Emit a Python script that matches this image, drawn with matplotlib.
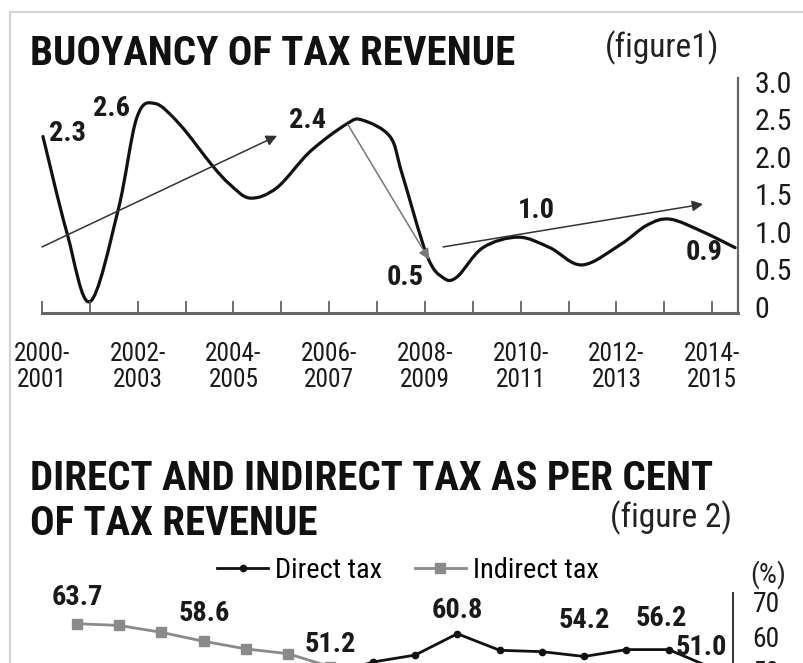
import matplotlib
matplotlib.use('Agg')
import matplotlib.pyplot as plt
import matplotlib.font_manager as fm
from matplotlib.path import Path
from matplotlib.patches import PathPatch, Rectangle

# =============================================================================
# DADOS
# =============================================================================

# figura 1: buoyancy (traço, posição em índice de ano fiscal)
periodos = ['2000-\n2001', '2001-\n2002', '2002-\n2003', '2003-\n2004', '2004-\n2005',
            '2005-\n2006', '2006-\n2007', '2007-\n2008', '2008-\n2009', '2009-\n2010',
            '2010-\n2011', '2011-\n2012', '2012-\n2013', '2013-\n2014', '2014-\n2015']
curva_x = [0.02, 0.52, 1.0, 1.59, 1.98, 2.36, 2.88, 3.55, 3.93, 4.35, 4.91, 5.6, 6.37,
           6.69, 7.27, 7.52, 8.04, 8.38, 8.67, 9.21, 9.95, 10.61, 11.28, 12.08, 12.64,
           13.12, 13.81, 14.48]
curva_y = [2.27, 0.99, 0.07, 1.29, 2.52, 2.71, 2.43, 1.89, 1.63, 1.45, 1.59, 2.07, 2.44,
           2.49, 2.27, 1.78, 0.69, 0.39, 0.40, 0.79, 0.93, 0.79, 0.56, 0.83, 1.09,
           1.17, 1.00, 0.79]
rotulos_buoy = ['2.3', '2.6', '2.4', '0.5', '1.0', '0.9']
rotulos_buoy_pos = [(0.54, 2.31), (1.46, 2.65), (5.54, 2.49), (7.58, 0.39), (10.32, 1.29), (13.83, 0.73)]
setas = [((0.0, 0.80), (4.91, 2.28), '#333333'),
         ((6.39, 2.43), (8.09, 0.63), '#777777'),
         ((8.38, 0.80), (13.81, 1.37), '#333333')]

# figura 2: participação (%) na receita tributária
anos2 = list(range(16))
direto = [36.3, 36.8, 38.8, 41.4, 43.6, 45.0, 48.8, 52.6, 54.6, 60.8, 56.0, 55.6, 54.2, 56.2, 56.2, 51.0]
indireto = [63.7, 63.2, 61.2, 58.6, 56.4, 55.0, 51.2, 47.4, 45.4, 39.2, 44.0, 44.4, 45.8, 43.8, 43.8, 49.0]
rotulos_pct = ['63.7', '58.6', '51.2', '60.8', '54.2', '56.2', '51.0']
rotulos_pct_pos = [(0.02, 71.4), (3.02, 66.7), (6.0, 57.7), (9.0, 67.5), (12.0, 64.6), (13.83, 65.2), (14.78, 56.8)]

# =============================================================================
# FONTE (condensada se existir, senão Roboto)
# =============================================================================

disponiveis = {f.name for f in fm.fontManager.ttflist}
estreita = next((n for n in ['Liberation Sans Narrow', 'DejaVu Sans Condensed', 'Roboto Condensed']
                 if n in disponiveis), None)
if estreita:
    plt.rcParams['font.family'] = [estreita, 'DejaVu Sans']
    k = 1.2
else:
    plt.rcParams['font.family'] = ['Roboto', 'DejaVu Sans']
    k = 1.0

W, H = 804, 663
fig = plt.figure(figsize=(W / 100, H / 100), dpi=100)
fig.patch.set_facecolor('white')

def fx(px):
    return px / W

def fy(py):
    return 1 - py / H

# moldura cinza (borda superior e esquerda)
fig.add_artist(Rectangle((fx(10), -0.2), 1.2, fy(12) + 0.2, transform=fig.transFigure,
                         fill=False, edgecolor='#d4d4d4', lw=1.6))

# ---------------- figura 1 ----------------
ax1 = fig.add_axes([fx(42), fy(313), fx(738) - fx(42), fy(78) - fy(313)])
ax1.set_xlim(0, 14.54)
ax1.set_ylim(-0.08, 3.05)

# curva suave (Catmull-Rom -> Bezier)
pts = list(zip(curva_x, curva_y))
verts = [pts[0]]
codes = [Path.MOVETO]
for i in range(len(pts) - 1):
    p0 = pts[i - 1] if i > 0 else pts[i]
    p1 = pts[i]
    p2 = pts[i + 1]
    p3 = pts[i + 2] if i + 2 < len(pts) else pts[i + 1]
    c1 = (p1[0] + (p2[0] - p0[0]) / 6, p1[1] + (p2[1] - p0[1]) / 6)
    c2 = (p2[0] - (p3[0] - p1[0]) / 6, p2[1] - (p3[1] - p1[1]) / 6)
    verts += [c1, c2, p2]
    codes += [Path.CURVE4] * 3
ax1.add_patch(PathPatch(Path(verts, codes), fill=False, edgecolor='#111111', lw=2.3,
                        capstyle='round', joinstyle='round', clip_on=False))

for (ini, fim, cor) in setas:
    ax1.annotate('', xy=fim, xytext=ini,
                 arrowprops=dict(arrowstyle='-|>', color=cor, lw=1.1, mutation_scale=16,
                                 shrinkA=0, shrinkB=0))

for txt, (x, y) in zip(rotulos_buoy, rotulos_buoy_pos):
    ax1.text(x, y, txt, ha='center', va='center', fontsize=17 * k, fontweight='bold', color='#1a1a1a')

ax1.set_xticks(range(len(periodos)))
ax1.set_xticklabels([p if i % 2 == 0 else '' for i, p in enumerate(periodos)],
                    fontsize=15.2 * k, linespacing=1.12, color='#1a1a1a')
ax1.tick_params(axis='x', direction='in', length=9, width=1.2, color='#555555', pad=21)
ax1.yaxis.tick_right()
ax1.set_yticks([0, 0.5, 1.0, 1.5, 2.0, 2.5, 3.0])
ax1.set_yticklabels(['0', '0.5', '1.0', '1.5', '2.0', '2.5', '3.0'], fontsize=18 * k, color='#1a1a1a')
ax1.tick_params(axis='y', length=0, pad=12)
for s in ['top', 'left']:
    ax1.spines[s].set_visible(False)
ax1.spines['bottom'].set_color('#666666')
ax1.spines['bottom'].set_linewidth(2.2)
ax1.spines['right'].set_color('#666666')
ax1.spines['right'].set_linewidth(1.6)
ax1.patch.set_alpha(0)

fig.text(fx(30), fy(65), 'BUOYANCY OF TAX REVENUE', fontsize=24.5 * k, fontweight='bold',
         va='baseline', ha='left', color='#111111')
fig.text(fx(605), fy(48), '(figure1)', fontsize=20 * k, va='center', ha='left', color='#222222')

# ---------------- figura 2 ----------------
ax2 = fig.add_axes([fx(43), fy(740), fx(733) - fx(43), fy(593) - fy(740)])
ax2.set_xlim(-0.8, 15.52)
ax2.set_ylim(30, 72.6)

ax2.plot(anos2, indireto, color='#8a8a8a', lw=2.0, marker='s', markersize=7,
         label='Indirect tax', clip_on=True)
ax2.plot(anos2, direto, color='#111111', lw=2.0, marker='o', markersize=4.5,
         label='Direct tax', clip_on=True)

for txt, (x, y) in zip(rotulos_pct, rotulos_pct_pos):
    ax2.text(x, y, txt, ha='center', va='center', fontsize=17 * k, fontweight='bold', color='#1a1a1a')

ax2.yaxis.tick_right()
ax2.set_yticks([40, 50, 60, 70])
ax2.set_yticklabels(['40', '50', '60', '70'], fontsize=16.5 * k, color='#1a1a1a')
ax2.tick_params(axis='y', length=0, pad=14)
ax2.set_xticks([])
for s in ['top', 'left', 'bottom']:
    ax2.spines[s].set_visible(False)
ax2.spines['right'].set_color('#333333')
ax2.spines['right'].set_linewidth(1.4)
ax2.patch.set_alpha(0)

h, l = ax2.get_legend_handles_labels()
ax2.legend(h[::-1], l[::-1], loc='center', bbox_to_anchor=(fx(408), fy(570)),
           bbox_transform=fig.transFigure, ncol=2, frameon=False, fontsize=17 * k,
           handlelength=1.8, handletextpad=0.25, columnspacing=1.15, numpoints=1)

fig.text(fx(30), fy(490), 'DIRECT AND INDIRECT TAX AS PER CENT', fontsize=24.5 * k,
         fontweight='bold', va='baseline', ha='left', color='#111111')
fig.text(fx(30), fy(535), 'OF TAX REVENUE', fontsize=24.5 * k, fontweight='bold',
         va='baseline', ha='left', color='#111111')
fig.text(fx(610), fy(518), '(figure 2)', fontsize=20 * k, va='center', ha='left', color='#222222')
fig.text(fx(750), fy(575), '(%)', fontsize=17 * k, va='center', ha='left', color='#222222')

plt.savefig('out.png', dpi=100)
